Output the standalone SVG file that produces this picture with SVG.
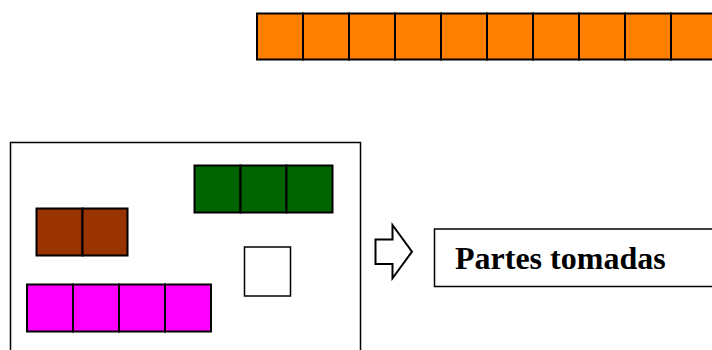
<svg xmlns="http://www.w3.org/2000/svg" width="712" height="350" viewBox="0 0 712 350">
<style>
.c{stroke:#000;stroke-width:2}
.o{fill:#ff8000}.g{fill:#006400}.b{fill:#993300}.m{fill:#ff00ff}
.f{fill:#fff;stroke:#000;stroke-width:1.5}
.a{fill:#fff;stroke:#000;stroke-width:2;stroke-linejoin:miter}
.t{font-family:"Liberation Serif",serif;font-weight:bold;font-size:32px;fill:#000}
</style>
<rect width="712" height="350" fill="#fff"/>
<g id="orange-bar">
<rect class="c o" x="257" y="13.5" width="46" height="46"/>
<rect class="c o" x="303" y="13.5" width="46" height="46"/>
<rect class="c o" x="349" y="13.5" width="46" height="46"/>
<rect class="c o" x="395" y="13.5" width="46" height="46"/>
<rect class="c o" x="441" y="13.5" width="46" height="46"/>
<rect class="c o" x="487" y="13.5" width="46" height="46"/>
<rect class="c o" x="533" y="13.5" width="46" height="46"/>
<rect class="c o" x="579" y="13.5" width="46" height="46"/>
<rect class="c o" x="625" y="13.5" width="46" height="46"/>
<rect class="c o" x="671" y="13.5" width="46" height="46"/>
</g>
<g id="frame">
<rect class="f" x="10.5" y="142.5" width="350" height="220"/>
</g>
<g id="green-bar">
<rect class="c g" x="194.5" y="165.5" width="46" height="47"/>
<rect class="c g" x="240.5" y="165.5" width="46" height="47"/>
<rect class="c g" x="286.5" y="165.5" width="46" height="47"/>
</g>
<g id="brown-bar">
<rect class="c b" x="36.5" y="208.5" width="46" height="47"/>
<rect class="c b" x="82.5" y="208.5" width="45" height="47"/>
</g>
<g id="white-square">
<rect class="f" x="244.5" y="247" width="46" height="49"/>
</g>
<g id="magenta-bar">
<rect class="c m" x="27" y="284.5" width="46" height="47"/>
<rect class="c m" x="73" y="284.5" width="46" height="47"/>
<rect class="c m" x="119" y="284.5" width="46" height="47"/>
<rect class="c m" x="165" y="284.5" width="46" height="47"/>
</g>
<g id="connectors">
<polygon class="a" points="375.5,239.5 392.5,239.5 392.5,225 412,251.7 392.5,278.3 392.5,264 375.5,264"/>
</g>
<g id="label">
<rect class="f" x="434.5" y="229" width="280" height="57.5"/>
<text class="t" x="455" y="269">Partes tomadas</text>
</g>
</svg>
